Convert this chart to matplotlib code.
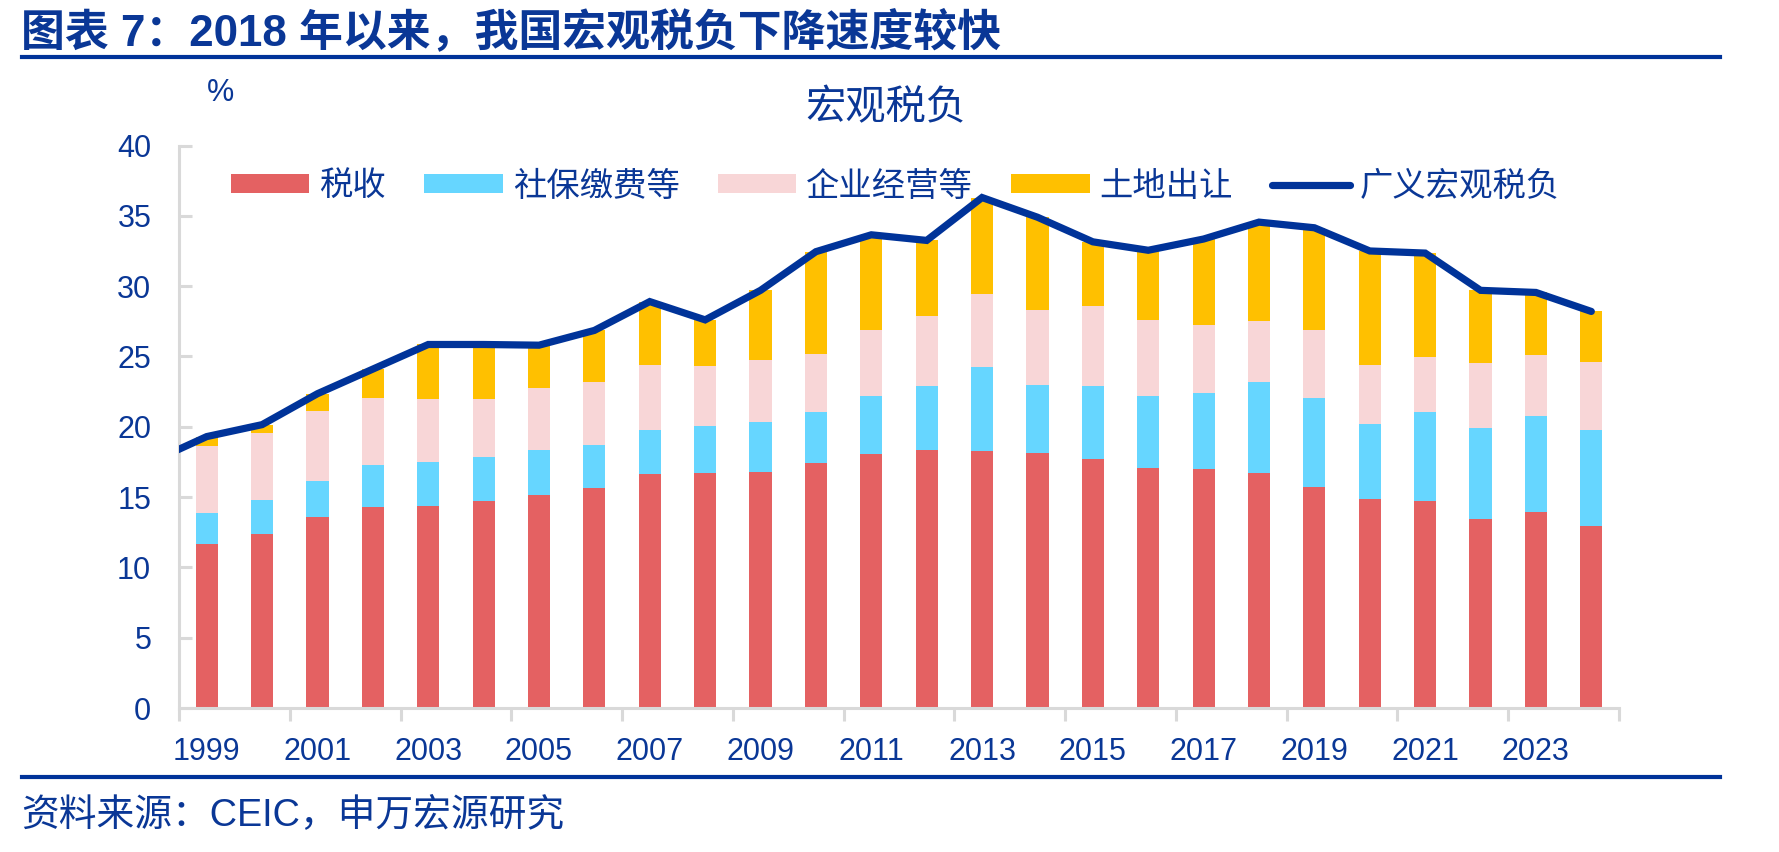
import matplotlib
matplotlib.use('Agg')
import matplotlib.pyplot as plt
from matplotlib.lines import Line2D

plt.rcParams['font.family'] = ['Liberation Sans', 'Noto Sans CJK SC', 'DejaVu Sans']

years = list(range(1999, 2025))
tax = [11.63, 12.39, 13.57, 14.26, 14.33, 14.69, 15.12, 15.61, 16.61, 16.68, 16.75, 17.43, 18.08,
       18.34, 18.27, 18.15, 17.74, 17.07, 16.99, 16.68, 15.69, 14.88, 14.69, 13.45, 13.95, 12.91]
social = [2.23, 2.42, 2.59, 3.01, 3.13, 3.13, 3.22, 3.10, 3.17, 3.38, 3.58, 3.61, 4.12,
          4.57, 5.97, 4.83, 5.15, 5.13, 5.42, 6.50, 6.37, 5.35, 6.33, 6.47, 6.85, 6.87]
enterprise = [4.76, 4.76, 4.94, 4.76, 4.50, 4.14, 4.40, 4.48, 4.60, 4.27, 4.40, 4.10, 4.69,
              4.97, 5.21, 5.31, 5.68, 5.38, 4.81, 4.32, 4.81, 4.15, 3.93, 4.62, 4.29, 4.81]
land = [0.68, 0.58, 1.25, 2.07, 3.89, 3.89, 3.06, 3.66, 4.52, 3.27, 4.97, 7.31, 6.76,
        5.37, 6.85, 6.61, 4.58, 4.97, 6.13, 7.05, 7.28, 8.12, 7.40, 5.16, 4.46, 3.61]
line_years = list(range(1998, 2025))
broad = [17.5, 19.3, 20.15, 22.35, 24.1, 25.85, 25.85, 25.8, 26.85, 28.9, 27.6, 29.7, 32.45, 33.65,
         33.25, 36.3, 34.9, 33.15, 32.55, 33.35, 34.55, 34.15, 32.5, 32.35, 29.7, 29.55, 28.2]

series_names = ['税收', '社保缴费等', '企业经营等', '土地出让']
line_name = '广义宏观税负'
colors = ['#E46162', '#66D6FF', '#F8D6D7', '#FFC000']
navy = '#003399'
txt = '#0A3796'

W, H = 1779, 852
fig = plt.figure(figsize=(W / 100, H / 100), dpi=100)
ax = fig.add_axes([179 / W, 1 - 708 / H, (1619 - 179) / W, (708 - 145.5) / H])

x = [y - years[0] for y in years]
bottom = [0.0] * len(years)
handles = []
for vals, col, name in zip([tax, social, enterprise, land], colors, series_names):
    b = ax.bar(x, vals, width=0.40, bottom=bottom, color=col, label=name, zorder=2)
    handles.append(b)
    bottom = [bb + v for bb, v in zip(bottom, vals)]

lx = [y - years[0] for y in line_years]
ln, = ax.plot(lx, broad, color=navy, lw=5.2, solid_capstyle='round', solid_joinstyle='miter',
              zorder=3, label=line_name)
handles.append(ln)

ax.set_xlim(-0.5, len(years) - 0.5)
ax.set_ylim(0, 40)
ax.set_yticks(range(0, 41, 5))
ax.tick_params(axis='y', direction='in', length=9, width=2.2, color='#D9D9D9',
               labelsize=22, labelcolor=txt, pad=20)
major = [i - 0.5 for i in range(0, len(years) + 1, 2)]
ax.set_xticks(major)
ax.set_xticklabels([''] * len(major))
ax.set_xticks(list(range(0, len(years), 2)), minor=True)
ax.set_xticklabels([str(years[i]) for i in range(0, len(years), 2)], minor=True)
ax.tick_params(axis='x', which='major', direction='out', length=9, width=2.2, color='#D9D9D9')
ax.tick_params(axis='x', which='minor', length=0, labelsize=22, labelcolor=txt, pad=21)
for s in ['top', 'right']:
    ax.spines[s].set_visible(False)
for s in ['left', 'bottom']:
    ax.spines[s].set_color('#D9D9D9')
    ax.spines[s].set_linewidth(2.2)

leg = fig.legend(handles=handles, labels=series_names + [line_name], ncol=5, frameon=False,
                 loc='center', bbox_to_anchor=(895.5 / W, 1 - 187 / H),
                 bbox_transform=fig.transFigure, fontsize=24, handlelength=2.35,
                 handleheight=0.5, handletextpad=0.3, columnspacing=1.15, borderpad=0)
for t in leg.get_texts():
    t.set_color(txt)

fig.text(21 / W, 1 - 32 / H, '图表 7：2018 年以来，我国宏观税负下降速度较快', fontsize=31.6,
         fontweight='bold', color=txt, ha='left', va='center')
fig.text(886 / W, 1 - 108 / H, '宏观税负', fontsize=29, color=txt, ha='center', va='center')
fig.text(221 / W, 1 - 93 / H, '%', fontsize=22, color=txt, ha='center', va='center')
fig.text(21 / W, 1 - 815 / H, '资料来源：CEIC，申万宏源研究', fontsize=27.2, color=txt,
         ha='left', va='center')

fig.add_artist(Line2D([22 / W, 1720 / W], [1 - 57 / H, 1 - 57 / H], color=navy, lw=3,
                      transform=fig.transFigure))
fig.add_artist(Line2D([22 / W, 1720 / W], [1 - 777 / H, 1 - 777 / H], color=navy, lw=3,
                      transform=fig.transFigure))

fig.savefig('out.png', dpi=100)
